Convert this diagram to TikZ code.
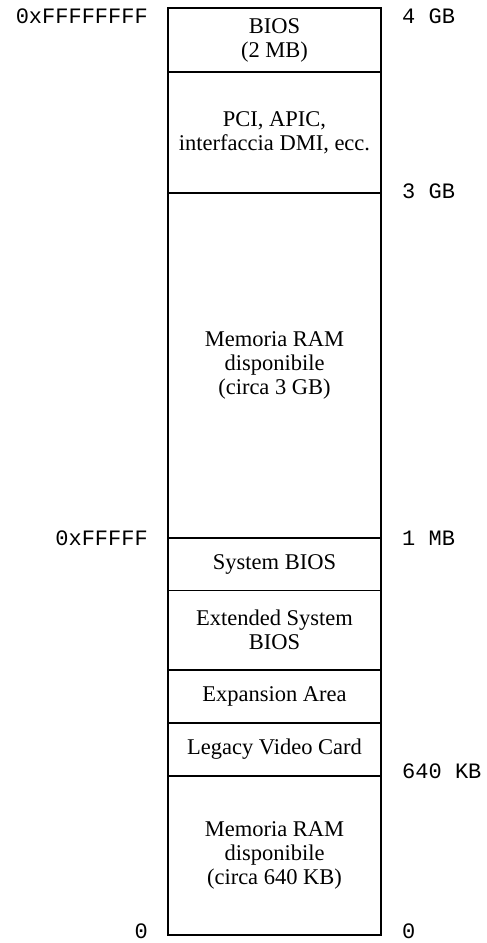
\documentclass[tikz,border=0pt]{standalone}
\usepackage{fontspec}
\setmainfont{Liberation Serif}
\setmonofont{Liberation Mono}
\begin{document}
\begin{tikzpicture}[x=1pt,y=-1pt,
  area/.style={draw,line width=1.1pt,minimum width=213pt,inner sep=0pt,align=center,
    font=\fontsize{22.5}{24}\selectfont},
  addr/.style={inner sep=0pt,font=\fontsize{22}{24}\selectfont\ttfamily}]
\useasboundingbox (0,0) rectangle (487,943);
% blocchi della memoria
\node[area,minimum height=64pt] (bios) at (274.5,40) {BIOS\\(2 MB)};
\node[area,minimum height=121pt] (pci) at (274.5,132.5) {PCI, APIC,\\interfaccia DMI, ecc.};
\node[area,minimum height=345pt] (ram) at (274.5,365.5) {Memoria RAM\\disponibile\\(circa 3 GB)};
\node[area,minimum height=52.5pt] (sysbios) at (274.5,564.25) {System BIOS};
\node[area,minimum height=79.5pt] (extbios) at (274.5,630.25) {Extended System\\BIOS};
\node[area,minimum height=53pt] (exparea) at (274.5,696.5) {Expansion Area};
\node[area,minimum height=53pt] (video) at (274.5,749.5) {Legacy Video Card};
\node[area,minimum height=159pt] (lowram) at (274.5,855.5) {Memoria RAM\\disponibile\\(circa 640 KB)};
% indirizzi
\node[addr,anchor=east] (hexfour) at (148,16) {0xFFFFFFFF};
\node[addr,anchor=east] (hexone) at (148,538) {0xFFFFF};
\node[addr,anchor=east] (hexzero) at (148,931) {0};
\node[addr,anchor=west] (gbfour) at (402,16) {4 GB};
\node[addr,anchor=west] (gbthree) at (402,191) {3 GB};
\node[addr,anchor=west] (mbone) at (402,538) {1 MB};
\node[addr,anchor=west] (kbsix) at (402,771) {640 KB};
\node[addr,anchor=west] (kbzero) at (402,931) {0};
\end{tikzpicture}
\end{document}
